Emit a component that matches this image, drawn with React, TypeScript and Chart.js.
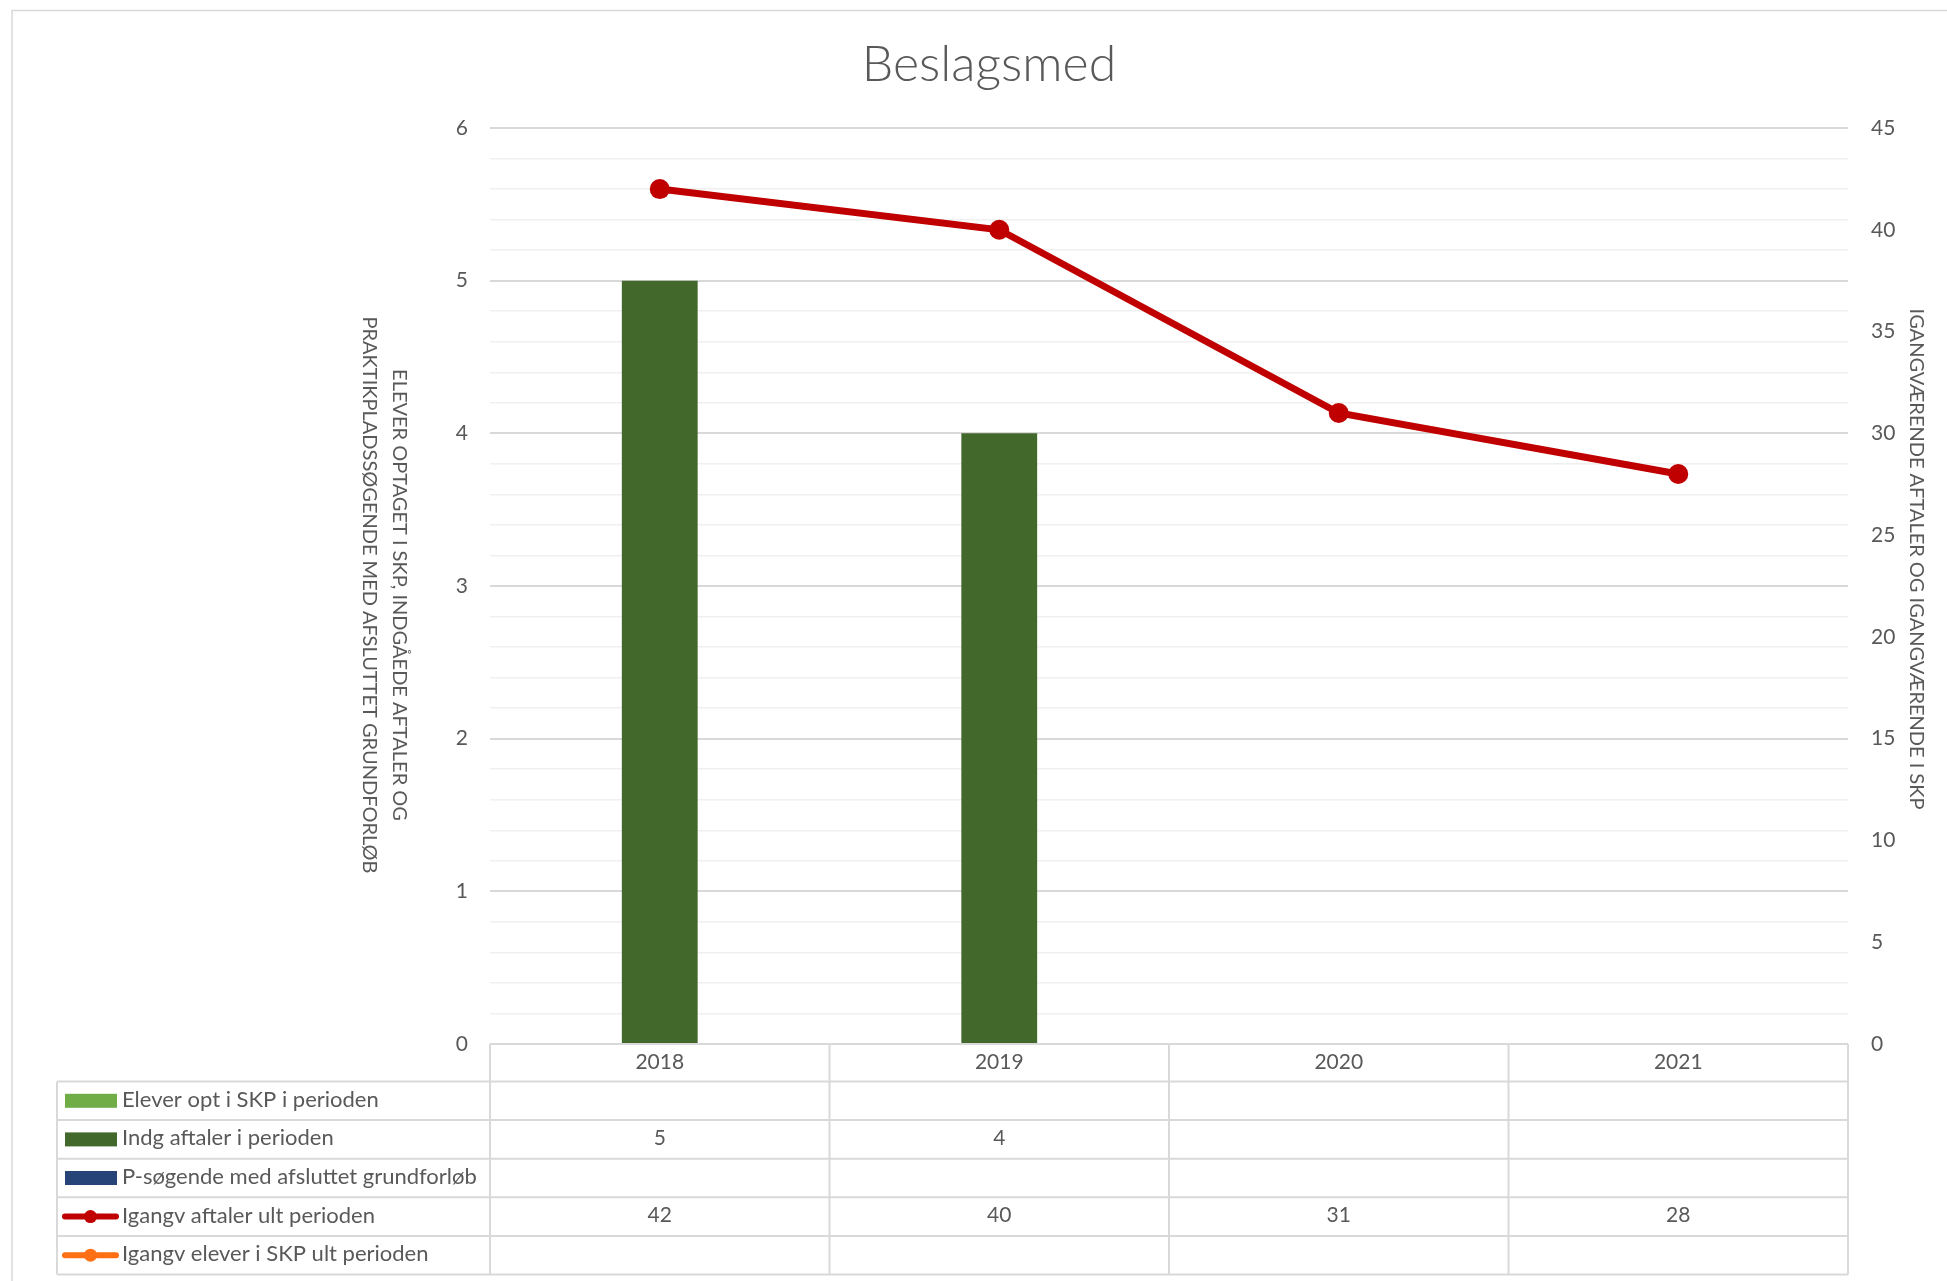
import React, { useEffect, useRef } from 'react';
import { Chart, registerables } from 'chart.js';

Chart.register(...registerables);

// ---------- data ----------
const chartTitle = 'Beslagsmed';
const categories = ['2018', '2019', '2020', '2021'];
const eleverOptSKP: (number | null)[] = [null, null, null, null];
const indgAftaler: (number | null)[] = [5, 4, null, null];
const pSoegende: (number | null)[] = [null, null, null, null];
const igangvAftaler: (number | null)[] = [42, 40, 31, 28];
const igangvEleverSKP: (number | null)[] = [null, null, null, null];
const seriesNames = [
  'Elever opt i SKP i perioden',
  'Indg aftaler i perioden',
  'P-søgende med afsluttet grundforløb',
  'Igangv aftaler ult perioden',
  'Igangv elever i SKP ult perioden',
];
const leftAxisTitle = [
  'ELEVER OPTAGET I SKP, INDGÅEDE AFTALER OG',
  'PRAKTIKPLADSSØGENDE MED AFSLUTTET GRUNDFORLØB',
];
const rightAxisTitle = 'IGANGVÆRENDE AFTALER OG IGANGVÆRENDE I SKP';
const leftAxisMax = 6;
const leftMinorStep = 0.2;
const rightAxisMax = 45;
const rightStep = 5;

// ---------- styles ----------
const FONT = 'Lato, "Noto Sans", sans-serif';
const TEXT = '#595959';
const GRID_MAJOR = '#d9d9d9';
const GRID_MINOR = '#f0f0f0';
const W = 1947;
const H = 1281;

const decorPlugin = {
  id: 'decor',
  beforeDraw(chart: any) {
    const ctx = chart.ctx as CanvasRenderingContext2D;
    ctx.save();
    ctx.fillStyle = '#ffffff';
    ctx.fillRect(0, 0, chart.width, chart.height);
    ctx.strokeStyle = GRID_MAJOR;
    ctx.lineWidth = 1.5;
    ctx.beginPath();
    ctx.moveTo(12, chart.height + 5);
    ctx.lineTo(12, 10.5);
    ctx.lineTo(chart.width + 5, 10.5);
    ctx.stroke();
    ctx.restore();
  },
  afterDraw(chart: any) {
    const ctx = chart.ctx as CanvasRenderingContext2D;
    const area = chart.chartArea;
    const xs = chart.scales.x;
    ctx.save();

    // title
    ctx.fillStyle = TEXT;
    ctx.font = `300 50px ${FONT}`;
    ctx.textAlign = 'center';
    ctx.textBaseline = 'alphabetic';
    ctx.fillText(chartTitle, 989, 81);

    // axis titles (rotated, reading top to bottom)
    ctx.font = `20px ${FONT}`;
    ctx.textBaseline = 'middle';
    leftAxisTitle.forEach((line, i) => {
      ctx.save();
      ctx.translate(399 - i * 29.5, 595);
      ctx.rotate(Math.PI / 2);
      ctx.fillText(line, 0, 0);
      ctx.restore();
    });
    ctx.save();
    ctx.translate(1916, 559);
    ctx.rotate(Math.PI / 2);
    ctx.fillText(rightAxisTitle, 0, 0);
    ctx.restore();

    // data table
    const n = categories.length;
    const cw = (area.right - area.left) / n;
    const top = area.bottom;
    const headerH = 37.5;
    const rowH = 38.6;
    const tableLeft = 57;
    const rowsTop = top + headerH;
    const datasets = chart.data.datasets;
    const bottom = rowsTop + rowH * datasets.length;

    ctx.strokeStyle = GRID_MAJOR;
    ctx.lineWidth = 2;
    ctx.beginPath();
    for (let k = 0; k <= datasets.length; k++) {
      const y = rowsTop + k * rowH;
      ctx.moveTo(tableLeft, y);
      ctx.lineTo(area.right, y);
    }
    for (let i = 0; i <= n; i++) {
      const bx = area.left + i * cw;
      ctx.moveTo(bx, top);
      ctx.lineTo(bx, bottom);
    }
    ctx.moveTo(tableLeft, rowsTop);
    ctx.lineTo(tableLeft, bottom);
    ctx.stroke();

    datasets.forEach((ds: any, r: number) => {
      const cy = rowsTop + r * rowH + rowH / 2;
      const color = ds.borderColor || ds.backgroundColor;
      if (ds.type === 'line') {
        ctx.strokeStyle = color;
        ctx.lineWidth = 6;
        ctx.lineCap = 'round';
        ctx.beginPath();
        ctx.moveTo(65, cy);
        ctx.lineTo(116, cy);
        ctx.stroke();
        ctx.fillStyle = color;
        ctx.beginPath();
        ctx.arc(90.5, cy, 6.5, 0, Math.PI * 2);
        ctx.fill();
      } else {
        ctx.fillStyle = ds.backgroundColor;
        ctx.fillRect(65, cy - 7, 52, 14);
      }
      ctx.fillStyle = TEXT;
      ctx.font = `22px ${FONT}`;
      ctx.textAlign = 'left';
      ctx.textBaseline = 'middle';
      ctx.fillText(ds.label, 122, cy - 1);
      ctx.font = `21px ${FONT}`;
      ctx.textAlign = 'center';
      ds.data.forEach((v: number | null, i: number) => {
        if (v === null || v === undefined) return;
        ctx.fillText(String(v), xs.getPixelForTick(i), cy - 1);
      });
    });

    ctx.restore();
  },
};

export default function App() {
  const ref = useRef<HTMLCanvasElement>(null);

  useEffect(() => {
    document.body.style.margin = '0';
    document.body.style.overflow = 'hidden';
    const isInt = (v: number) => Math.abs(v - Math.round(v)) < 1e-6;
    const chart = new Chart(ref.current as HTMLCanvasElement, {
      type: 'bar',
      data: {
        labels: categories,
        datasets: [
          {
            type: 'bar',
            label: seriesNames[0],
            data: eleverOptSKP,
            backgroundColor: '#70ad47',
            yAxisID: 'y',
            order: 1,
          },
          {
            type: 'bar',
            label: seriesNames[1],
            data: indgAftaler,
            backgroundColor: '#43682b',
            yAxisID: 'y',
            order: 1,
          },
          {
            type: 'bar',
            label: seriesNames[2],
            data: pSoegende,
            backgroundColor: '#264478',
            yAxisID: 'y',
            order: 1,
          },
          {
            type: 'line',
            label: seriesNames[3],
            data: igangvAftaler,
            borderColor: '#c00000',
            backgroundColor: '#c00000',
            borderWidth: 7,
            pointRadius: 10,
            pointBorderWidth: 0,
            pointBackgroundColor: '#c00000',
            tension: 0,
            yAxisID: 'y1',
            order: 0,
          },
          {
            type: 'line',
            label: seriesNames[4],
            data: igangvEleverSKP,
            borderColor: '#ff7014',
            backgroundColor: '#ff7014',
            borderWidth: 7,
            pointRadius: 10,
            pointBorderWidth: 0,
            pointBackgroundColor: '#ff7014',
            yAxisID: 'y1',
            order: 0,
          },
        ] as any,
      },
      options: {
        responsive: false,
        animation: false,
        devicePixelRatio: 1,
        layout: { padding: { top: 128, left: 0, right: 0, bottom: 0 } },
        datasets: {
          bar: { categoryPercentage: 0.67, barPercentage: 1 },
        } as any,
        plugins: {
          legend: { display: false },
          title: { display: false },
          tooltip: { enabled: false },
        },
        scales: {
          x: {
            grid: { display: false, drawTicks: false },
            border: { display: false },
            ticks: {
              color: TEXT,
              font: { family: FONT, size: 21 },
              padding: 6,
              maxRotation: 0,
              autoSkip: false,
            },
            afterFit: (s: any) => {
              s.height = H - 1044;
            },
          },
          y: {
            position: 'left',
            min: 0,
            max: leftAxisMax,
            grid: {
              drawTicks: false,
              color: (c: any) => (isInt(c.tick.value) ? GRID_MAJOR : GRID_MINOR),
              lineWidth: (c: any) => (isInt(c.tick.value) ? 2 : 1.5),
            },
            border: { display: false },
            ticks: {
              stepSize: leftMinorStep,
              maxTicksLimit: 100,
              autoSkip: false,
              color: TEXT,
              font: { family: FONT, size: 21 },
              padding: 22,
              callback: (v: any) => (isInt(Number(v)) ? String(Math.round(Number(v))) : ''),
            },
            afterFit: (s: any) => {
              s.width = 490;
            },
          },
          y1: {
            position: 'right',
            min: 0,
            max: rightAxisMax,
            grid: { display: false, drawTicks: false },
            border: { display: false },
            ticks: {
              stepSize: rightStep,
              autoSkip: false,
              color: TEXT,
              font: { family: FONT, size: 21 },
              padding: 23,
            },
            afterFit: (s: any) => {
              s.width = W - 1848;
            },
          },
        },
      } as any,
      plugins: [decorPlugin],
    });
    return () => chart.destroy();
  }, []);

  return (
    <div style={{ width: W, height: H, position: 'relative' }}>
      <canvas ref={ref} width={W} height={H} style={{ display: 'block', width: W, height: H }} />
    </div>
  );
}
